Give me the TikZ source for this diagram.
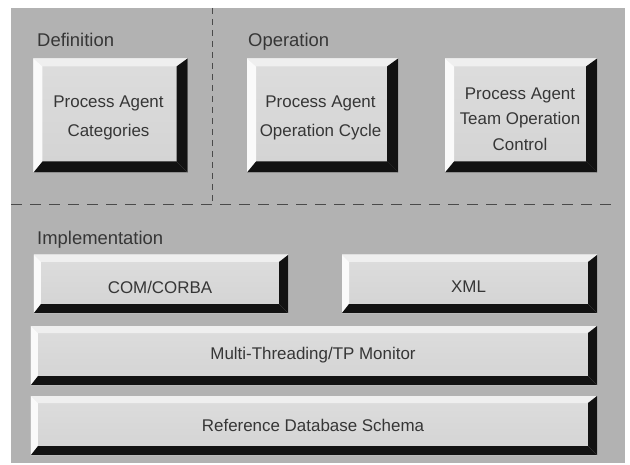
\documentclass[tikz,border=0pt]{standalone}
\usepackage{fontspec}
\setmainfont{Liberation Sans}
\definecolor{panel}{HTML}{B2B2B2}
\definecolor{faceT}{HTML}{DDDDDD}
\definecolor{faceB}{HTML}{D3D3D3}
\definecolor{bvtop}{HTML}{EFEFEF}
\definecolor{bvleft}{HTML}{FAFAFA}
\definecolor{bvdark}{HTML}{121212}
\definecolor{txt}{HTML}{363636}
\definecolor{rule}{HTML}{4A4A4A}
\tikzset{
  bevel top/.store in=\bvT, bevel left/.store in=\bvL, bevel dark/.store in=\bvD,
  bevel top=8, bevel left=9, bevel dark=11,
  heading/.style={anchor=base west, inner sep=0, text=txt,
    font=\fontsize{18.5}{22}\selectfont},
  boxtext/.style={inner sep=0, align=center, text=txt,
    font=\fontsize{17}{#1}\selectfont},
  boxtext/.default=27,
  bevelbox/.style={rectangle, inner sep=0, outer sep=0,
    top color=faceT, bottom color=faceB,
    path picture={
      % light top bevel
      \fill[bvtop] (path picture bounding box.north west)
        -- (path picture bounding box.north east)
        -- ([shift={(-\bvD bp,-\bvT bp)}]path picture bounding box.north east)
        -- ([shift={(\bvL bp,-\bvT bp)}]path picture bounding box.north west) -- cycle;
      % light left bevel
      \fill[bvleft] (path picture bounding box.north west)
        -- ([shift={(\bvL bp,-\bvT bp)}]path picture bounding box.north west)
        -- ([shift={(\bvL bp,\bvD bp)}]path picture bounding box.south west)
        -- (path picture bounding box.south west) -- cycle;
      % dark bottom bevel
      \fill[bvdark] (path picture bounding box.south west)
        -- ([shift={(\bvL bp,\bvD bp)}]path picture bounding box.south west)
        -- ([shift={(-\bvD bp,\bvD bp)}]path picture bounding box.south east)
        -- (path picture bounding box.south east) -- cycle;
      % dark right bevel
      \fill[bvdark] (path picture bounding box.north east)
        -- (path picture bounding box.south east)
        -- ([shift={(-\bvD bp,\bvD bp)}]path picture bounding box.south east)
        -- ([shift={(-\bvD bp,-\bvT bp)}]path picture bounding box.north east) -- cycle;
    }},
  layer/.style={bevelbox, bevel top=7, bevel left=7, bevel dark=9},
  divider/.style={draw=rule, line width=0.9bp},
}
\begin{document}
\begin{tikzpicture}[x=1bp, y=-1bp]
  \useasboundingbox (0,0) rectangle (630,465);
  \fill[white] (0,0) rectangle (630,465);
  % grey panel
  \fill[panel] (11,8) rectangle (625,463);

  % section dividers
  \coordinate (vtop) at (212,8);
  \coordinate (vbot) at (212,204);
  \coordinate (hl) at (11,204);
  \coordinate (hr) at (615,204);
  \draw[divider, dash pattern=on 6bp off 5bp] (vtop) -- (vbot);
  \draw[divider, dash pattern=on 11bp off 8bp] (hl) -- (hr);

  % section headings
  \node[heading] (hdef) at (37,47) {Definition};
  \node[heading] (hop) at (248,47) {Operation};
  \node[heading] (himp) at (37,245) {Implementation};

  % upper boxes
  \node[bevelbox, minimum width=154bp, minimum height=114bp] (cat) at (110.5,115.5) {};
  \node[bevelbox, minimum width=151bp, minimum height=114bp] (cyc) at (322.5,115.5) {};
  \node[bevelbox, minimum width=152bp, minimum height=114bp] (team) at (521,115.5) {};
  \node[boxtext=29] (catT) at ([shift={(-2bp,-2.5bp)}]cat.center) {Process Agent\\Categories};
  \node[boxtext=29] (cycT) at ([shift={(-2bp,-2.5bp)}]cyc.center) {Process Agent\\Operation Cycle};
  \node[boxtext=25.5] (teamT) at ([shift={(-1bp,-3.5bp)}]team.center)
    {Process Agent\\Team Operation\\Control};

  % implementation layers
  \node[layer, minimum width=254bp, minimum height=58bp] (com) at (161,284) {};
  \node[layer, minimum width=255bp, minimum height=58bp] (xml) at (469.5,284) {};
  \node[layer, minimum width=566bp, minimum height=59bp] (mt) at (314,355.5) {};
  \node[layer, minimum width=566bp, minimum height=59bp] (db) at (314,425.5) {};
  \node[boxtext] (comT) at ([shift={(-1bp,-3bp)}]com.center) {COM/CORBA};
  \node[boxtext] (xmlT) at ([shift={(-1bp,-3bp)}]xml.center) {XML};
  \node[boxtext] (mtT) at ([shift={(-1bp,0bp)}]mt.center) {Multi-Threading/TP Monitor};
  \node[boxtext] (dbT) at ([shift={(-1bp,0bp)}]db.center) {Reference Database Schema};
\end{tikzpicture}
\end{document}
